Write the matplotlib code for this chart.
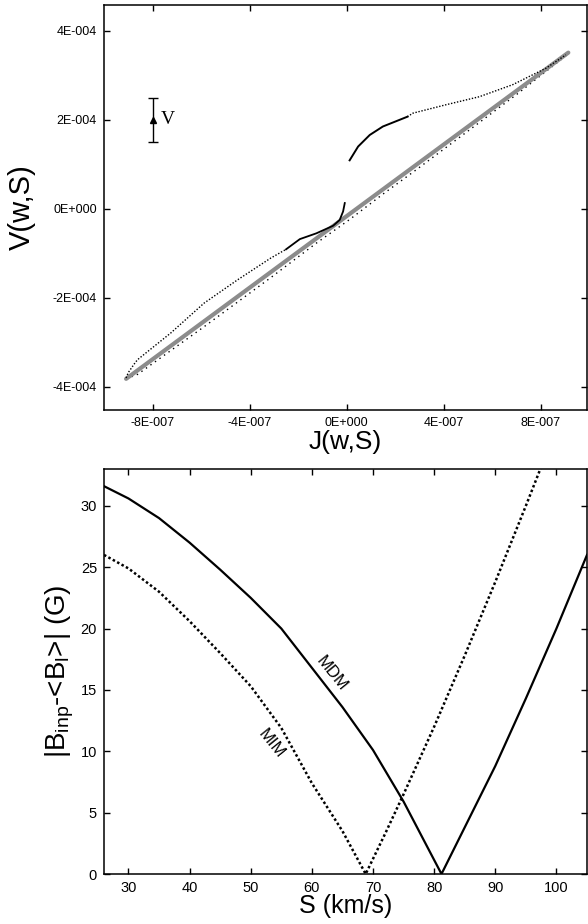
import matplotlib
matplotlib.use("Agg")
import matplotlib.pyplot as plt

plt.rcParams["font.family"] = ["Liberation Sans", "DejaVu Sans"]
plt.rcParams["mathtext.default"] = "regular"

# ---- top panel: V(w,S) vs J(w,S)  (J in units of 1e-7, V in units of 1e-4)
J_UNIT = 1e-7
V_UNIT = 1e-4

LINE_J = [-9.09, 9.13]
LINE_V = [-3.82, 3.51]

# upper-left branch, dotted part then solid part
UL_DOT_J = [-9.09, -9.0, -8.76, -8.62, -7.25, -5.88, -4.51, -3.14, -2.5]
UL_DOT_V = [-3.80, -3.68, -3.49, -3.39, -2.79, -2.12, -1.60, -1.11, -0.91]
UL_SOL_J = [-2.5, -1.93, -1.25, -0.56, -0.29, -0.15, -0.08]
UL_SOL_V = [-0.91, -0.68, -0.55, -0.38, -0.25, -0.06, 0.13]

# upper-right branch, solid part then dotted part
UR_SOL_J = [0.12, 0.47, 0.95, 1.49, 2.18, 2.5]
UR_SOL_V = [1.09, 1.40, 1.66, 1.85, 2.00, 2.07]
UR_DOT_J = [2.5, 2.73, 4.10, 5.47, 6.84, 8.21, 9.03]
UR_DOT_V = [2.07, 2.15, 2.34, 2.52, 2.79, 3.16, 3.46]

# lower return branch (dotted, just under the grey line)
LOW_J = [9.03, 7.0, 5.0, 2.87, 1.49, 0.12, -1.25, -3.14, -5.88, -8.62, -9.09]
LOW_V = [3.44, 2.57, 1.75, 0.88, 0.33, -0.24, -0.77, -1.55, -2.65, -3.72, -3.82]

ERR_J = [-8.0]
ERR_V = [2.0]
ERR_DV = [0.5]

J_TICKS = [-8e-7, -4e-7, 0.0, 4e-7, 8e-7]
J_TICK_LABELS = ["-8E-007", "-4E-007", "0E+000", "4E-007", "8E-007"]
V_TICKS = [-4e-4, -2e-4, 0.0, 2e-4, 4e-4]
V_TICK_LABELS = ["-4E-004", "-2E-004", "0E+000", "2E-004", "4E-004"]

# ---- bottom panel: |B_inp - <B_l>| vs S
S_MDM = [26, 30, 35, 40, 45, 50, 55, 60, 65, 70, 75, 81.2, 85, 90, 95, 100, 105]
B_MDM = [31.6, 30.6, 29.0, 27.0, 24.8, 22.5, 20.0, 16.8, 13.6, 10.1, 5.9, 0.0,
         3.8, 8.8, 14.3, 20.0, 26.0]

S_MIM = [26, 30, 35, 40, 45, 50, 55, 60, 65, 68.8, 72, 75, 80, 85, 90, 95, 98]
B_MIM = [26.0, 24.9, 23.0, 20.6, 18.0, 15.3, 11.9, 7.4, 3.5, 0.0, 3.3, 6.5,
         12.0, 17.8, 23.8, 30.0, 33.8]

S_TICKS = [30, 40, 50, 60, 70, 80, 90, 100]
B_TICKS = [0, 5, 10, 15, 20, 25, 30]


def scaled(vals, unit):
    return [v * unit for v in vals]


def style_axes(ax, labelsize):
    ax.tick_params(direction="in", top=True, right=True, length=4, width=1,
                   labelsize=labelsize, pad=5)
    for sp in ax.spines.values():
        sp.set_linewidth(1.1)


def main():
    fig = plt.figure(figsize=(5.88, 9.24), dpi=100)

    # top panel
    ax1 = fig.add_axes([104 / 588, 1 - 410 / 924, 483 / 588, 405 / 924])
    ax1.plot(scaled(LOW_J, J_UNIT), scaled(LOW_V, V_UNIT), color="k", lw=1.0,
             dashes=(1.0, 3.0), zorder=1)
    ax1.plot(scaled(LINE_J, J_UNIT), scaled(LINE_V, V_UNIT), color="#8c8c8c", lw=3.0,
             solid_capstyle="round", zorder=2)
    ax1.plot(scaled(UL_DOT_J, J_UNIT), scaled(UL_DOT_V, V_UNIT), color="k", lw=1.0,
             dashes=(1.0, 1.3), zorder=3)
    ax1.plot(scaled(UL_SOL_J, J_UNIT), scaled(UL_SOL_V, V_UNIT), color="k", lw=1.3, zorder=3)
    ax1.plot(scaled(UR_SOL_J, J_UNIT), scaled(UR_SOL_V, V_UNIT), color="k", lw=1.4, zorder=3)
    ax1.plot(scaled(UR_DOT_J, J_UNIT), scaled(UR_DOT_V, V_UNIT), color="k", lw=1.0,
             dashes=(1.0, 1.2), zorder=3)
    ax1.errorbar(scaled(ERR_J, J_UNIT), scaled(ERR_V, V_UNIT), yerr=scaled(ERR_DV, V_UNIT),
                 fmt="^", color="k", ms=4, capsize=3.5, elinewidth=1, capthick=1)
    ax1.text(-7.65e-7, 2e-4, "V", family=["Liberation Serif", "DejaVu Serif"],
             fontsize=14, ha="left", va="center")

    ax1.set_xlim(-1.0e-6, 0.99e-6)
    ax1.set_ylim(-4.52e-4, 4.58e-4)
    ax1.set_xticks(J_TICKS)
    ax1.set_xticklabels(J_TICK_LABELS)
    ax1.set_yticks(V_TICKS)
    ax1.set_yticklabels(V_TICK_LABELS)
    style_axes(ax1, 9)
    ax1.set_xlabel("J(w,S)", fontsize=19)
    ax1.set_ylabel("V(w,S)", fontsize=21)
    ax1.xaxis.label.set_va("center")
    ax1.yaxis.label.set_va("center")
    ax1.xaxis.set_label_coords(0.5, -0.079)
    ax1.yaxis.set_label_coords(-0.17, 0.5)

    # bottom panel
    ax2 = fig.add_axes([104 / 588, 1 - 874 / 924, 483 / 588, 405 / 924])
    ax2.plot(S_MDM, B_MDM, color="k", lw=1.6)
    ax2.plot(S_MIM, B_MIM, color="k", lw=1.8, dashes=(1.0, 1.0))
    ax2.text(63.2, 16.35, "MDM", rotation=-51, fontsize=12, ha="center", va="center",
             rotation_mode="anchor")
    ax2.text(53.4, 10.65, "MIM", rotation=-51, fontsize=12, ha="center", va="center",
             rotation_mode="anchor")

    ax2.set_xlim(26, 105)
    ax2.set_ylim(0, 33)
    ax2.set_xticks(S_TICKS)
    ax2.set_yticks(B_TICKS)
    style_axes(ax2, 10.5)
    ax2.set_xlabel("S (km/s)", fontsize=18)
    ax2.set_ylabel("|B$_{inp}$-<B$_{l}$>| (G)", fontsize=20)
    ax2.xaxis.label.set_va("center")
    ax2.yaxis.label.set_va("center")
    ax2.xaxis.set_label_coords(0.5, -0.079)
    ax2.yaxis.set_label_coords(-0.091, 0.5)

    fig.savefig("out.png", dpi=100)


if __name__ == "__main__":
    main()
